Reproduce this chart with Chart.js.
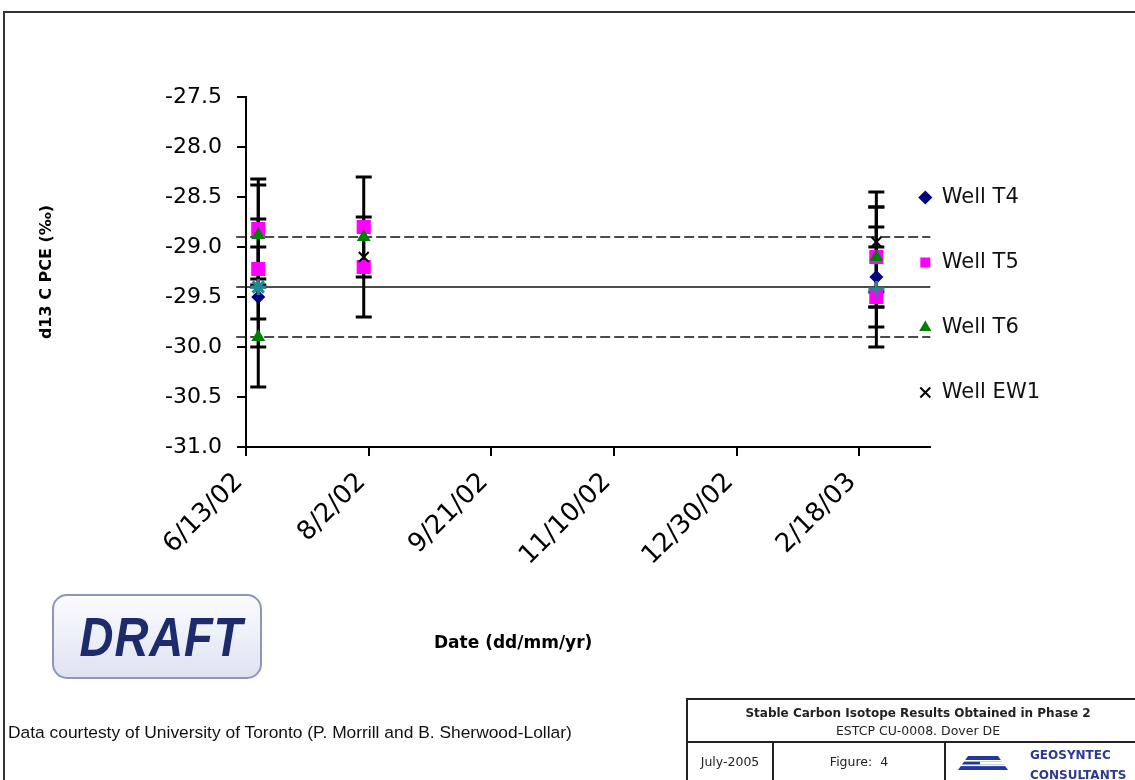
<!DOCTYPE html>
<html>
<head>
<meta charset="utf-8">
<script src="https://cdn.jsdelivr.net/npm/chart.js@4.4.1/dist/chart.umd.min.js"></script>
<style>
  html, body { margin: 0; padding: 0; background: #fff; }
  body { width: 1135px; height: 780px; position: relative; overflow: hidden; font-family: "Liberation Sans", Arial, sans-serif; }
  #frame { position: absolute; left: 3px; top: 11px; width: 1140px; height: 790px; border-top: 2px solid #333; border-left: 2px solid #333; }
  #chartBox { position: absolute; left: 0; top: 0; width: 1135px; height: 780px; }
  #xTitle { position: absolute; left: 434px; top: 632px; font: bold 17px "DejaVu Sans", sans-serif; color: #000; white-space: nowrap; }
  #draft { position: absolute; left: 52px; top: 594px; width: 210px; height: 85px; box-sizing: border-box;
           border: 2px solid #8d96b8; border-radius: 15px; background: linear-gradient(#fbfcff, #dfe3f1);
           text-align: center; }
  #draft span { display: inline-block; font: italic bold 56px "Liberation Sans", Arial, sans-serif; color: #1d2a6c;
                line-height: 81px; transform: scaleX(0.84); letter-spacing: 1px; margin-left: 8px; }
  #credit { position: absolute; left: 8px; top: 722px; font-size: 17.4px; color: #111; white-space: nowrap; }
  #block { position: absolute; left: 686px; top: 698px; width: 460px; height: 90px; border-top: 2px solid #222; border-left: 2px solid #222;
           font-family: "DejaVu Sans", sans-serif; }
  #block .row1 { height: 41px; border-bottom: 2px solid #222; text-align: center; font-size: 12px; color: #222; }
  #block .row1 div { line-height: 17px; }
  #block .l1 { padding-top: 5px; font-weight: bold; }
  #block .l2 { font-size: 12.5px; }
  .cell { position: absolute; top: 43px; height: 50px; font-size: 12.5px; color: #222; }
  #c1 { left: 0; width: 84px; text-align: center; line-height: 38px; border-right: 2px solid #222; }
  #c2 { left: 86px; width: 170px; text-align: center; line-height: 38px; border-right: 2px solid #222; }
  #c3 { left: 258px; width: 200px; }
  #c3 svg { position: absolute; left: 12px; top: 13px; }
  #c3 .geo { position: absolute; left: 84px; top: 2px; font-weight: bold; font-size: 12px; color: #2b3a92; line-height: 20px; }
</style>
</head>
<body>
<div id="frame"></div>
<div id="chartBox"><canvas id="isoChart"></canvas></div>
<div id="xTitle">Date (dd/mm/yr)</div>
<div id="draft"><span>DRAFT</span></div>
<div id="credit">Data courtesty of University of Toronto (P. Morrill and B. Sherwood-Lollar)</div>
<div id="block">
  <div class="row1">
    <div class="l1">Stable Carbon Isotope Results Obtained in Phase 2</div>
    <div class="l2">ESTCP CU-0008. Dover DE</div>
  </div>
  <div class="cell" id="c1">July-2005</div>
  <div class="cell" id="c2">Figure:&nbsp; 4</div>
  <div class="cell" id="c3">
    <svg width="50" height="14" viewBox="0 0 50 14">
      <polygon points="10,0 40,0 50,14 0,14" fill="#1f3a9a"/>
      <rect x="0" y="4" width="50" height="1.6" fill="#fff"/>
      <rect x="0" y="8.5" width="50" height="1.6" fill="#fff"/>
      <rect x="22" y="5.6" width="30" height="2.9" fill="#fff"/>
    </svg>
    <div class="geo">GEOSYNTEC<br>CONSULTANTS</div>
  </div>
</div>

<script>
// dates are days after 6/13/02
const t4Days = [5, 257];
const t4Values = [-29.5, -29.3];
const t4Errors = [0.5, 0.5];

const t5Days = [5, 5, 48, 48, 257, 257];
const t5Values = [-28.82, -29.22, -28.8, -29.2, -29.1, -29.5];
const t5Errors = [0.5, 0.5, 0.5, 0.5, 0.5, 0.5];

const t6Days = [5, 5, 48, 257];
const t6Values = [-28.88, -29.9, -28.9, -29.1];
const t6Errors = [0.5, 0.5, 0, 0.5];

const ew1Days = [48, 257];
const ew1Values = [-29.1, -28.95];
const ew1Errors = [0, 0.5];

// teal marks not in legend
const avgDays = [5, 257];
const avgValues = [-29.4, -29.42];

// horizontal reference lines
const refSpan = [-4, 279];
const refMean = -29.4;
const refUpper = -28.9;
const refLower = -29.9;

const yTicks = [-31.0, -30.5, -30.0, -29.5, -29.0, -28.5, -28.0, -27.5];

function toPoints(days, values) {
  return days.map((d, i) => ({ x: d, y: values[i] }));
}

function dayLabel(v) {
  const d = new Date(2002, 5, 13 + v);
  return (d.getMonth() + 1) + "/" + d.getDate() + "/" + String(d.getFullYear()).slice(2);
}

function refLine(level, dash) {
  return {
    label: "ref",
    data: refSpan.map(x => ({ x: x, y: level })),
    showLine: true,
    borderColor: "#111",
    borderWidth: 1.5,
    borderDash: dash,
    pointRadius: 0,
    clip: false,
    order: 10
  };
}

// error bars drawn under the markers
const errorBars = {
  id: "errorBars",
  beforeDatasetsDraw(chart) {
    const { ctx, scales } = chart;
    ctx.save();
    ctx.strokeStyle = "#000";
    ctx.lineWidth = 3;
    chart.data.datasets.forEach(ds => {
      if (!ds.errors) return;
      ds.data.forEach((p, j) => {
        const e = ds.errors[j];
        if (!e) return;
        const px = scales.x.getPixelForValue(p.x);
        const top = scales.y.getPixelForValue(p.y + e);
        const bottom = scales.y.getPixelForValue(p.y - e);
        ctx.beginPath();
        ctx.moveTo(px, top);
        ctx.lineTo(px, bottom);
        ctx.moveTo(px - 8, top);
        ctx.lineTo(px + 8, top);
        ctx.moveTo(px - 8, bottom);
        ctx.lineTo(px + 8, bottom);
        ctx.stroke();
      });
    });
    ctx.restore();
  }
};

// legend sits partly over the right end of the plot, like the original
const legendNudge = {
  id: "legendNudge",
  afterLayout(chart) {
    chart.legend.left -= 55;
    chart.legend.right -= 55;
  }
};

Chart.defaults.font.family = "'DejaVu Sans', sans-serif";
Chart.defaults.color = "#000";

const ctx = document.getElementById("isoChart").getContext("2d");
new Chart(ctx, {
  type: "scatter",
  data: {
    datasets: [
      {
        label: "Well T4",
        data: toPoints(t4Days, t4Values),
        errors: t4Errors,
        pointStyle: "rectRot",
        pointRadius: 7,
        backgroundColor: "#000080",
        borderColor: "#000080",
        borderWidth: 0,
        order: 5
      },
      {
        label: "Well T5",
        data: toPoints(t5Days, t5Values),
        errors: t5Errors,
        pointStyle: "rect",
        pointRadius: 10,
        backgroundColor: "#ff00ff",
        borderColor: "#ff00ff",
        borderWidth: 0,
        order: 4
      },
      {
        label: "Well T6",
        data: toPoints(t6Days, t6Values),
        errors: t6Errors,
        pointStyle: "triangle",
        pointRadius: 8,
        backgroundColor: "#008000",
        borderColor: "#008000",
        borderWidth: 0,
        order: 3
      },
      {
        label: "Well EW1",
        data: toPoints(ew1Days, ew1Values),
        errors: ew1Errors,
        pointStyle: "crossRot",
        pointRadius: 7,
        backgroundColor: "#000",
        borderColor: "#000",
        borderWidth: 2,
        order: 2
      },
      {
        label: "avg",
        data: toPoints(avgDays, avgValues),
        pointStyle: ["star", "cross"],
        pointRadius: 8,
        backgroundColor: "#1f8a92",
        borderColor: "#1f8a92",
        borderWidth: 3,
        order: 1
      },
      refLine(refUpper, [10, 4]),
      refLine(refMean, []),
      refLine(refLower, [10, 4])
    ]
  },
  options: {
    responsive: true,
    maintainAspectRatio: false,
    animation: false,
    layout: { padding: { left: 0, top: 97, right: 30, bottom: 0 } },
    plugins: {
      tooltip: { enabled: false },
      legend: {
        position: "right",
        align: "end",
        fullSize: false,
        maxWidth: 400,
        labels: {
          usePointStyle: true,
          boxWidth: 12,
          boxHeight: 10,
          padding: 44,
          color: "#111",
          font: { size: 21 },
          filter: item => item.datasetIndex < 4,
          sort: (a, b) => a.datasetIndex - b.datasetIndex
        }
      }
    },
    scales: {
      x: {
        type: "linear",
        min: 0,
        max: 279,
        afterFit: scale => { scale.height = 333; },
        border: { display: true, color: "#000", width: 2 },
        grid: { drawOnChartArea: false, drawTicks: true, tickLength: 9, color: "#000", lineWidth: 2 },
        ticks: {
          stepSize: 50,
          includeBounds: false,
          minRotation: 45,
          maxRotation: 45,
          padding: 11,
          labelOffset: -7,
          font: { size: 26 },
          callback: v => dayLabel(v)
        }
      },
      y: {
        min: yTicks[0],
        max: yTicks[yTicks.length - 1],
        afterFit: scale => { scale.width = 246; },
        afterBuildTicks: scale => { scale.ticks = yTicks.map(v => ({ value: v })); },
        border: { display: true, color: "#000", width: 2 },
        grid: { drawOnChartArea: false, drawTicks: true, tickLength: 9, color: "#000", lineWidth: 2 },
        ticks: {
          padding: 15,
          font: { size: 22 },
          callback: v => v.toFixed(1)
        },
        title: {
          display: true,
          text: "d13 C PCE (‰)",
          font: { size: 16, weight: "bold" },
          padding: { top: 37, bottom: 0 }
        }
      }
    }
  },
  plugins: [errorBars, legendNudge]
});
</script>
</body>
</html>
